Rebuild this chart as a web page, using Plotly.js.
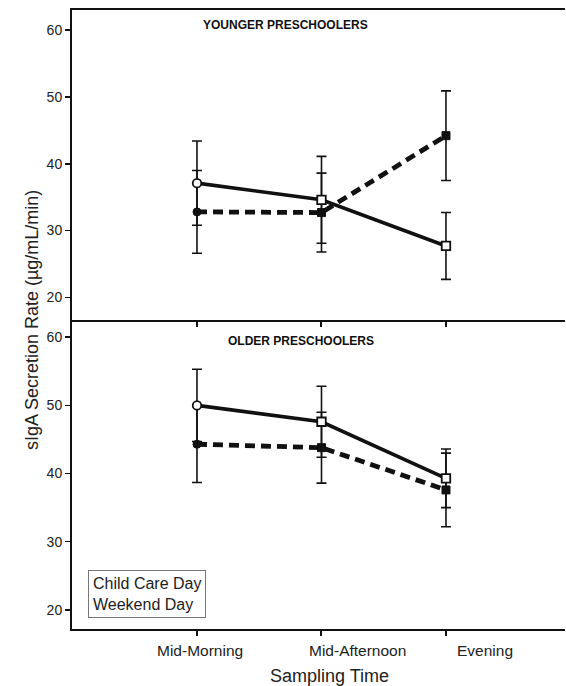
<!DOCTYPE html>
<html>
<head>
<meta charset="utf-8">
<script src="https://cdn.plot.ly/plotly-3.0.1.min.js"></script>
<style>html,body{margin:0;padding:0;background:#fff;}#chart{width:566px;height:686px;}</style>
</head>
<body>
<div id="chart"></div>
<script>
// Data
var categories = ['Mid-Morning', 'Mid-Afternoon', 'Evening'];
var tickLabels = ['Mid-Morning', 'Mid-Afternoon', 'Evening'];
var symbols = ['circle', 'square', 'square'];

// Younger preschoolers
var youngChildCare = [37.1, 34.6, 27.7];
var youngChildCareErr = [6.3, 6.5, 5.0];
var youngWeekend = [32.8, 32.7, 44.2];
var youngWeekendErr = [6.2, 5.9, 6.7];

// Older preschoolers
var oldChildCare = [50.0, 47.6, 39.3];
var oldChildCareErr = [5.3, 5.2, 4.3];
var oldWeekend = [44.3, 43.8, 37.6];
var oldWeekendErr = [5.6, 5.2, 5.4];

var FONT = 'Liberation Sans, Arial, sans-serif';

function weekendTrace(y, err, xa, ya) {
  return {
    x: categories, y: y, xaxis: xa, yaxis: ya, type: 'scatter', mode: 'lines+markers',
    line: {color: '#111', width: 4.8, dash: '10px,6px'},
    marker: {symbol: symbols, size: 8, color: '#111', line: {color: '#111', width: 1}},
    error_y: {type: 'data', array: err, visible: true, color: '#111', thickness: 1.6, width: 5},
    showlegend: false, cliponaxis: false
  };
}
function childTrace(y, err, xa, ya) {
  return {
    x: categories, y: y, xaxis: xa, yaxis: ya, type: 'scatter', mode: 'lines+markers',
    line: {color: '#111', width: 3.6},
    marker: {symbol: symbols, size: 8.5, color: '#fff', line: {color: '#111', width: 1.8}},
    error_y: {type: 'data', array: err, visible: true, color: '#111', thickness: 1.6, width: 5},
    showlegend: false, cliponaxis: false
  };
}

var data = [
  weekendTrace(youngWeekend, youngWeekendErr, 'x', 'y'),
  childTrace(youngChildCare, youngChildCareErr, 'x', 'y'),
  weekendTrace(oldWeekend, oldWeekendErr, 'x2', 'y2'),
  childTrace(oldChildCare, oldChildCareErr, 'x2', 'y2')
];

var xRange = [-1.004, 2.956];
var yTicks = [20, 30, 40, 50, 60];

function xAxis(anchor, mirror) {
  return {
    anchor: anchor, domain: [0, 1], type: 'category', range: xRange,
    showline: true, linecolor: '#111', linewidth: 2, mirror: mirror,
    ticks: 'outside', ticklen: 5, tickwidth: 2, tickcolor: '#111',
    tickvals: categories, showticklabels: false, showgrid: false, zeroline: false, fixedrange: true
  };
}
function yAxis(anchor, domain, range) {
  return {
    anchor: anchor, domain: domain, range: range,
    showline: true, linecolor: '#111', linewidth: 2,
    ticks: 'outside', ticklen: 5, tickwidth: 1.5, tickcolor: '#111',
    tickvals: yTicks, ticktext: yTicks.map(String),
    tickfont: {family: FONT, size: 14, color: '#222'},
    showgrid: false, zeroline: false, fixedrange: true
  };
}

var tickShifts = [3, 36, 39];
var annotations = tickLabels.map(function (t, i) {
  return {
    text: t, x: categories[i], xref: 'x2', y: 0, yref: 'paper', yanchor: 'middle',
    yshift: -21, xshift: tickShifts[i], showarrow: false,
    font: {family: FONT, size: 15.5, color: '#222'}
  };
});
annotations.push(
  {text: '<b>YOUNGER PRESCHOOLERS</b>', xref: 'paper', yref: 'paper', x: 0.434, y: 0.976,
   yanchor: 'middle', showarrow: false, font: {family: FONT, size: 12, color: '#111'}},
  {text: '<b>OLDER PRESCHOOLERS</b>', xref: 'paper', yref: 'paper', x: 0.465, y: 0.465,
   yanchor: 'middle', showarrow: false, font: {family: FONT, size: 12, color: '#111'}},
  {text: 'Child Care Day<br>Weekend Day', xref: 'paper', yref: 'paper', x: 0.032, y: 0.095,
   xanchor: 'left', yanchor: 'top', align: 'left', showarrow: false,
   bordercolor: '#777', borderwidth: 1, borderpad: 4,
   font: {family: FONT, size: 16, color: '#222'}},
  {text: 'Sampling Time', xref: 'paper', yref: 'paper', x: 0.523, y: 0, yshift: -47,
   yanchor: 'middle', showarrow: false, font: {family: FONT, size: 18, color: '#222'}},
  {text: 'sIgA Secretion Rate (µg/mL/min)', xref: 'paper', yref: 'paper', x: 0, xshift: -52,
   y: 0.499, textangle: -90, showarrow: false, font: {family: FONT, size: 18, color: '#222'}}
);

var layout = {
  width: 566, height: 686,
  margin: {l: 72, r: 1, t: 10, b: 57},
  paper_bgcolor: '#fff', plot_bgcolor: '#fff',
  showlegend: false,
  xaxis: xAxis('y', true),
  yaxis: yAxis('x', [0.5, 1], [16.7, 63]),
  xaxis2: xAxis('y2', false),
  yaxis2: yAxis('x2', [0, 0.5], [17.2, 62.6]),
  annotations: annotations
};

Plotly.newPlot('chart', data, layout, {staticPlot: true, displayModeBar: false});
</script>
</body>
</html>
